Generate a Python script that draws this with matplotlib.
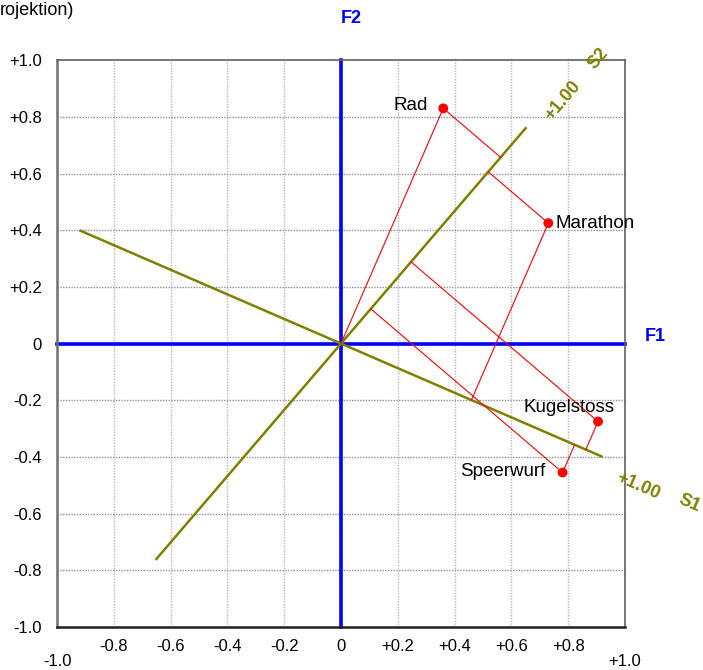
import numpy as np
import matplotlib.pyplot as plt

plt.rcParams['font.family'] = ['Liberation Sans', 'DejaVu Sans']

# --- daten ---
variablen = ["Rad", "Marathon", "Kugelstoss", "Speerwurf"]
f1 = [0.36, 0.73, 0.905, 0.78]
f2 = [0.83, 0.425, -0.275, -0.455]
s1_richtung = [0.917, -0.398]
s2_richtung = [0.65, 0.76]
ticks = [-1.0, -0.8, -0.6, -0.4, -0.2, 0.0, 0.2, 0.4, 0.6, 0.8, 1.0]

OLIV = '#808000'

def fmt(v):
    if abs(v) < 1e-9:
        return "0"
    return f"{v:+.1f}"

u1 = np.array(s1_richtung) / np.linalg.norm(s1_richtung)
u2 = np.array(s2_richtung) / np.linalg.norm(s2_richtung)

fig = plt.figure(figsize=(7.03, 6.70), dpi=100)
ax = fig.add_axes([0.0811, 0.0642, 0.808, 0.846])
ax.set_xlim(-1, 1)
ax.set_ylim(-1, 1)

# raster
for t in ticks[1:-1]:
    ax.axvline(t, color='#b8b8b8', linestyle=(0, (1, 1)), linewidth=1.0, zorder=0)
    ax.axhline(t, color='#909090', linestyle=(0, (1, 1)), linewidth=1.0, zorder=0)

# achsen F1 / F2
ax.plot([-1, 1], [0, 0], color='#0000ff', linewidth=2.6, zorder=2, clip_on=False)
ax.plot([0, 0], [-1, 1], color='#0000ff', linewidth=2.6, zorder=2, clip_on=False)

# schiefe achsen S1 / S2
for u in (u1, u2):
    ax.plot([-u[0], u[0]], [-u[1], u[1]], color=OLIV, linewidth=1.8, zorder=3)

# projektionen
for name, x, y in zip(variablen, f1, f2):
    p = np.array([x, y])
    for u in (u1, u2):
        q = np.dot(p, u) * u
        ax.plot([x, q[0]], [y, q[1]], color='#ff0000', linewidth=0.8, zorder=4)
ax.scatter(f1, f2, s=50, color='#ff0000', zorder=5, edgecolors='none')

offsets = {
    "Rad": ((-11, 2), 'right', 'center'),
    "Marathon": ((5, 0), 'left', 'center'),
    "Kugelstoss": ((-21, 10), 'center', 'center'),
    "Speerwurf": ((-12, 1), 'right', 'center'),
}
for name, x, y in zip(variablen, f1, f2):
    off, ha, va = offsets[name]
    ax.annotate(name, (x, y), xytext=off, textcoords='offset points',
                ha=ha, va=va, fontsize=13.5, color='black', zorder=6)

# beschriftung der schiefen achsen
w1 = np.degrees(np.arctan2(u1[1], u1[0]))
w2 = np.degrees(np.arctan2(u2[1], u2[0]))
n1 = np.array([-u1[1], u1[0]])
n2 = np.array([-u2[1], u2[0]])
for u, n, w, name, t_lab, d_lab, t_name, d_name in (
        (u1, n1, w1, "S1", 1.16, -0.045, 1.35, -0.03),
        (u2, n2, w2, "S2", 1.16, -0.035, 1.355, -0.035)):
    p = t_lab * u + d_lab * n
    ax.text(p[0], p[1], "+1.00", rotation=w, rotation_mode='anchor', ha='center',
            va='center', color=OLIV, fontsize=13, fontweight='bold', clip_on=False)
    p = t_name * u + d_name * n
    ax.text(p[0], p[1], name, rotation=w, rotation_mode='anchor', ha='center',
            va='center', color=OLIV, fontsize=13, fontweight='bold', clip_on=False)

ax.text(1.106, 0.025, "F1", color='#0000ff', fontsize=13, fontweight='bold',
        ha='center', va='center', clip_on=False)
ax.text(0.035, 1.147, "F2", color='#0000ff', fontsize=13, fontweight='bold',
        ha='center', va='center', clip_on=False)

# ticks
ax.set_yticks(ticks)
ax.set_yticklabels([fmt(t) for t in ticks])
xlabels = [fmt(t) for t in ticks]
xlabels[0] = ""
xlabels[-1] = ""
ax.set_xticks(ticks)
ax.set_xticklabels(xlabels)
ax.tick_params(axis='both', length=0, labelsize=12)
ax.tick_params(axis='y', pad=11)
ax.tick_params(axis='x', pad=9)

# -1.0 / +1.0 etwas tiefer gesetzt
for t in (ticks[0], ticks[-1]):
    ax.annotate(fmt(t), (t, 0), xycoords=('data', 'axes fraction'),
                xytext=(0, -25), textcoords='offset points',
                ha='center', va='center', fontsize=12, annotation_clip=False)

for side in ('left', 'bottom'):
    ax.spines[side].set_linewidth(1.8)
ax.spines['left'].set_color('#707070')
ax.spines['bottom'].set_color('#202020')
ax.spines['top'].set_color('#606060')
ax.spines['right'].set_color('#606060')
ax.spines['top'].set_linewidth(1.2)
ax.spines['right'].set_linewidth(1.2)

fig.text(0.0, 0.985, "rojektion)", fontsize=13, ha='left', va='center')

fig.savefig("out.png", dpi=100)
